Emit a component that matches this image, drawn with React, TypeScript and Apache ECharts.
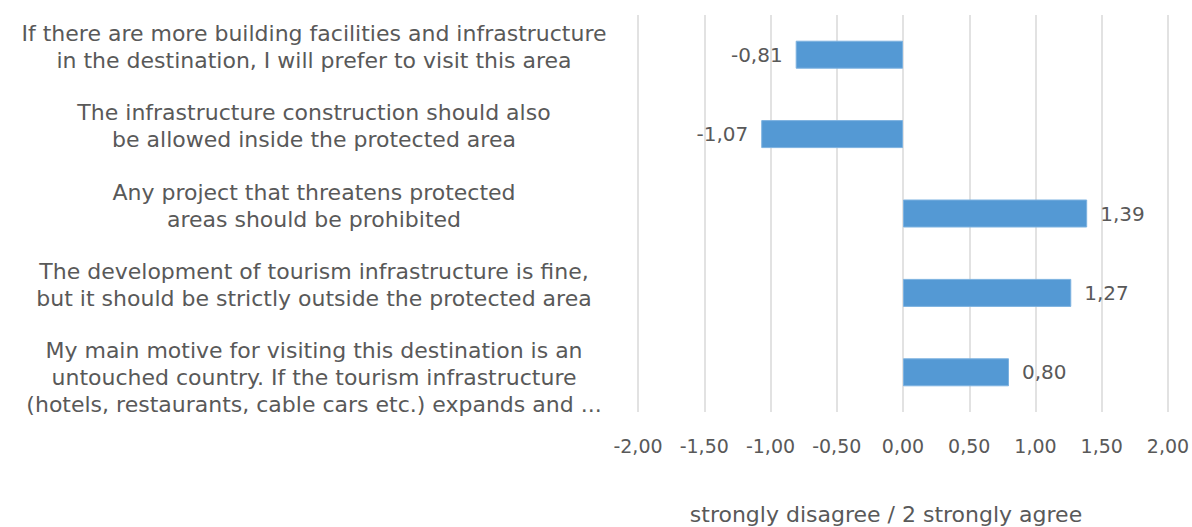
import React, { useEffect, useRef } from "react";
import * as echarts from "echarts";

const categories = [
  "If there are more building facilities and infrastructure\nin the destination, I will prefer to visit this area",
  "The infrastructure construction should also\nbe allowed inside the protected area",
  "Any project that threatens protected\nareas should be prohibited",
  "The development of tourism infrastructure is fine,\nbut it should be strictly outside the protected area",
  "My main motive for visiting this destination is an\nuntouched country. If the tourism infrastructure\n(hotels, restaurants, cable cars etc.) expands and ...",
];
const values = [-0.81, -1.07, 1.39, 1.27, 0.8];
const axisName = "strongly disagree / 2 strongly agree";

const FONT = "DejaVu Sans";
const TXT = "#595959";
const fmt = (v: number) => v.toFixed(2).replace(".", ",");

export default function App() {
  const ref = useRef<HTMLDivElement>(null);
  useEffect(() => {
    document.body.style.margin = "0";
    const chart = echarts.init(ref.current!, null, { renderer: "svg" });
    chart.setOption({
      animation: false,
      textStyle: { fontFamily: FONT },
      grid: {
        left: 638,
        right: 24,
        top: 15,
        bottom: 115,
        containLabel: false,
        outerBoundsMode: "none",
      },
      xAxis: {
        type: "value",
        min: -2,
        max: 2,
        interval: 0.5,
        axisLine: { show: false },
        axisTick: { show: false },
        splitLine: { show: true, lineStyle: { color: "#D9D9D9", width: 1.5 } },
        axisLabel: {
          formatter: (v: number) => fmt(v),
          color: TXT,
          fontFamily: FONT,
          fontSize: 19,
          margin: 24,
          hideOverlap: false,
        },
        name: axisName,
        nameLocation: "middle",
        nameGap: 91,
        nameTextStyle: { color: TXT, fontFamily: FONT, fontSize: 22, padding: [0, 34, 0, 0] },
      },
      yAxis: {
        type: "category",
        inverse: true,
        data: categories,
        axisLine: { show: false },
        axisTick: { show: false },
        splitLine: { show: false },
        axisLabel: {
          color: TXT,
          fontFamily: FONT,
          fontSize: 22,
          lineHeight: 27,
          align: "center",
          margin: 324,
          interval: 0,
          formatter: (v: string) => {
            const lines = v.split("\n").map((l) => `{t|${l}}`);
            if (lines.length > 2) return ["{sp10| }", ...lines].join("\n");
            return [...lines, "{sp16| }"].join("\n");
          },
          rich: {
            t: { color: TXT, fontFamily: FONT, fontSize: 22, lineHeight: 27, align: "center" },
            sp10: { fontSize: 1, lineHeight: 10 },
            sp16: { fontSize: 1, lineHeight: 16 },
          },
        },
      },
      series: [
        {
          type: "bar",
          barWidth: 28,
          data: values.map((v) => ({
            value: v,
            label: { position: v < 0 ? "left" : "right" },
          })),
          itemStyle: { color: "#5499D4", borderColor: "#7DB2E0", borderWidth: 1 },
          label: {
            show: true,
            distance: 13,
            color: TXT,
            fontFamily: FONT,
            fontSize: 20,
            formatter: (p: any) => fmt(p.value),
          },
        },
      ],
    });
    return () => chart.dispose();
  }, []);
  return <div ref={ref} style={{ width: 1192, height: 527 }} />;
}
